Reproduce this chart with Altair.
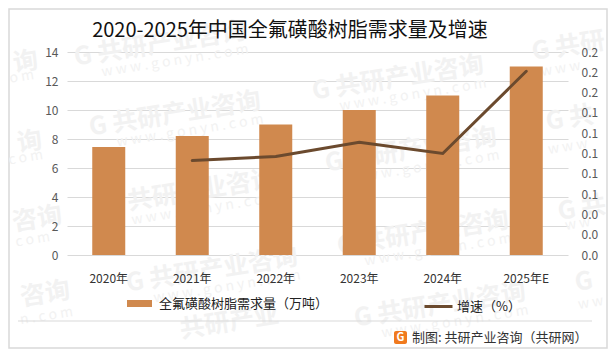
import altair as alt
import pandas as pd

years = ["2020年", "2021年", "2022年", "2023年", "2024年", "2025年E"]
demand = [7.45, 8.2, 9.0, 10.0, 11.0, 13.0]
growth = [None, 0.093, 0.097, 0.111, 0.1, 0.181]
bar_name = "全氟磺酸树脂需求量（万吨）"
line_name = "增速（%）"
title_text = "2020-2025年中国全氟磺酸树脂需求量及增速"
footer_text = "制图: 共研产业咨询（共研网）"
wm_main = "G 共研产业咨询"
wm_sub = "w w w . g o n y n . c o m"
wm_centres = [(160, 44), (175, 114), (190, 192), (212, 270),
              (398, 78), (411, 150), (423, 233), (440, 305)]
# partial watermarks at the frame's edges: text, x, y, align
wm_edge = [("询", 38, 60, "right", 25), ("询", 42, 140, "right", 25),
           ("咨询", 62, 215, "right", 25), ("咨询", 70, 290, "right", 25),
           ("o m", 34, 75, "right", 14), ("c o m", 43, 155, "right", 14),
           ("c o m", 50, 237, "right", 14), ("n . c o m", 73, 312, "right", 14),
           ("G 共研", 532, 52, "left", 25), ("G 共", 546, 122, "left", 25),
           ("G 共", 558, 212, "left", 25), ("G", 575, 283, "left", 25),
           ("w w w .", 541, 72, "left", 14), ("w w w", 548, 150, "left", 14),
           ("w w", 565, 226, "left", 14), ("w w", 578, 305, "left", 14),
           ("共研产业", 180, 330, "left", 25)]

FONT = "Noto Sans CJK SC"
WM = "#f2f2f2"
L, T = 67, 52
W, H = 501, 203

df = pd.DataFrame({"year": years, "demand": demand, "growth": growth,
                   "bar": bar_name, "line": line_name})
one = pd.DataFrame({"k": [0]})

x = alt.X("year:N", sort=years, title=None,
          scale=alt.Scale(paddingInner=0.6, paddingOuter=0.3),
          axis=alt.Axis(labelAngle=0, labelFont=FONT, labelFontSize=12, labelColor="#333333",
                        labelPadding=18, ticks=False, domain=False, grid=False, zindex=1))

layers = []

# frame
layers.append(alt.Chart(one).mark_rect(fillOpacity=0, stroke="#d9d9d9", strokeWidth=1.5).encode(
    x=alt.value(9 - L), x2=alt.value(607 - L),
    y=alt.value(9 - T), y2=alt.value(348 - T)))

# watermarks
for cx, cy in wm_centres:
    layers.append(alt.Chart(one).mark_text(
        text=wm_main, x=cx - L, y=cy - T, angle=351, font=FONT, fontSize=25, fontWeight="bold",
        color=WM, align="center", baseline="middle"))
    layers.append(alt.Chart(one).mark_text(
        text=wm_sub, x=cx - L + 15, y=cy - T + 17, angle=351, font=FONT, fontSize=14, fontWeight="normal",
        color=WM, align="center", baseline="middle"))
for txt, px, py, al, fs in wm_edge:
    layers.append(alt.Chart(one).mark_text(
        text=txt, x=px - L, y=py - T, angle=351, font=FONT, fontSize=fs,
        fontWeight="bold" if fs > 20 else "normal", color=WM, align=al, baseline="middle"))

# horizontal grid, kept below the bars
grid = alt.Chart(df).mark_bar(opacity=0, width=1).encode(
    x=x,
    y=alt.Y("demand:Q", title=None, scale=alt.Scale(domain=[0, 14]),
            axis=alt.Axis(values=list(range(0, 15, 2)), orient="left", labels=False, ticks=False, domain=False,
                          grid=True, gridColor="#d9d9d9", gridWidth=1, zindex=0)),
)

bars = alt.Chart(df).mark_bar(width=33).encode(
    x=x,
    y=alt.Y("demand:Q", title=None, scale=alt.Scale(domain=[0, 14]),
            axis=alt.Axis(values=list(range(0, 15, 2)), orient="left", labelFont=FONT, labelFontSize=12,
                          labelColor="#595959", labelPadding=9, ticks=False, domain=False,
                          grid=False, zindex=1)),
    fill=alt.Fill("bar:N", scale=alt.Scale(range=["#d0894e"]),
                  legend=alt.Legend(orient="none", legendX=130 - L - 3, legendY=291 - T, title=None,
                                    symbolType="M-1,-0.28H1V0.28H-1Z", symbolSize=625, symbolStrokeWidth=0,
                                    labelLimit=300, labelFont=FONT, labelFontSize=13, labelColor="#222222",
                                    labelOffset=7)),
)

line = alt.Chart(df).transform_filter("isValid(datum.growth)").mark_line(strokeWidth=3, strokeCap="round").encode(
    x=x,
    y=alt.Y("growth:Q", title=None, scale=alt.Scale(domain=[0, 0.2]),
            axis=alt.Axis(values=[0, 0.02, 0.04, 0.06, 0.08, 0.1, 0.12, 0.14, 0.16, 0.18, 0.2],
                          format=".1f", orient="right", labelFont=FONT, labelFontSize=12,
                          labelColor="#595959", labelPadding=13, ticks=False, domain=False, grid=False, zindex=1)),
    stroke=alt.Stroke("line:N", scale=alt.Scale(range=["#6b4a2e"]),
                      legend=alt.Legend(orient="none", legendX=426 - L - 3, legendY=291 - T, title=None,
                                        symbolType="stroke", symbolSize=784, symbolStrokeWidth=3,
                                        labelLimit=200, labelFont=FONT, labelFontSize=13, labelColor="#222222",
                                        labelOffset=3)),
)

# title, separator, footer
extras = [
    alt.Chart(one).mark_text(text=title_text, x=290 - L, y=31 - T, font=FONT, fontSize=20, fontWeight="normal",
                             color="#111111", align="center", baseline="middle"),
    alt.Chart(one).mark_rule(color="#d9d9d9", strokeWidth=1).encode(
        x=alt.value(18 - L), x2=alt.value(592 - L), y=alt.value(321 - T)),
    alt.Chart(one).mark_rect(fill="#f07a1e", cornerRadius=2).encode(
        x=alt.value(394 - L), x2=alt.value(407 - L), y=alt.value(331 - T), y2=alt.value(344 - T)),
    alt.Chart(one).mark_text(text="G", x=400.5 - L, y=337.5 - T, font=FONT, fontSize=11, fontWeight="bold",
                             color="white", align="center", baseline="middle"),
    alt.Chart(one).mark_text(text=footer_text, x=412 - L, y=338 - T, font=FONT, fontSize=13, fontWeight="normal",
                             color="#333333", align="left", baseline="middle"),
]

chart = alt.layer(*layers, grid, bars, line, *extras).resolve_scale(y="independent").properties(
    width=W, height=H,
    padding={"left": L - 8, "top": T - 8, "right": 40, "bottom": 94},
    autosize=alt.AutoSizeParams(type="none"),
).configure_view(stroke=None)

chart.save("out.html", embed_options={"renderer": "svg", "actions": False})
